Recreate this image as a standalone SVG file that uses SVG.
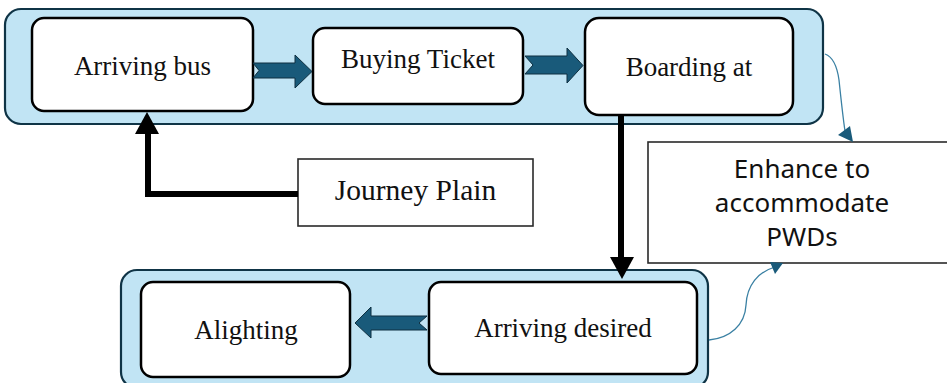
<svg xmlns="http://www.w3.org/2000/svg" width="947" height="383" viewBox="0 0 947 383">
  <style>
    .lane { fill: #c1e4f4; stroke: #0f3446; stroke-width: 2.2; }
    .step { fill: #ffffff; stroke: #000000; stroke-width: 2.5; }
    .plain { fill: #ffffff; stroke: #2a2a2a; stroke-width: 1.6; }
    .serif { font-family: "Liberation Serif", "Times New Roman", serif; font-size: 27px; fill: #111111; text-anchor: middle; }
    .sans { font-family: "Noto Sans", "Open Sans", sans-serif; font-size: 26px; fill: #111111; text-anchor: middle; }
    .chevron { fill: #195a7a; stroke: #0e2f40; stroke-width: 1; stroke-linejoin: miter; }
    .heavy { fill: none; stroke: #000000; stroke-width: 6; }
    .thin { fill: none; stroke: #3a80a3; stroke-width: 1.3; }
    .thinhead { fill: #195a7a; }
  </style>

  <!-- swimlane backgrounds -->
  <g id="lane-top">
    <rect class="lane" x="5" y="9" width="818" height="115" rx="16"/>
  </g>
  <g id="lane-bottom">
    <rect class="lane" x="121" y="270" width="587" height="118" rx="16"/>
  </g>

  <!-- steps -->
  <g id="arriving-bus">
    <rect class="step" x="32" y="18" width="221" height="93" rx="12"/>
    <text class="serif" x="142.5" y="75">Arriving bus</text>
  </g>
  <g id="buying-ticket">
    <rect class="step" x="313" y="28" width="210" height="76" rx="12"/>
    <text class="serif" x="418" y="68">Buying Ticket</text>
  </g>
  <g id="boarding-at">
    <rect class="step" x="585" y="18" width="208" height="97" rx="14"/>
    <text class="serif" x="689" y="76">Boarding at</text>
  </g>
  <g id="journey-plain">
    <rect class="plain" x="298" y="159" width="235" height="67"/>
    <text class="serif" x="415.5" y="200" style="font-size:29.5px">Journey Plain</text>
  </g>
  <g id="enhance">
    <rect class="plain" x="648" y="142" width="320" height="121"/>
    <text class="sans" x="802" y="178">Enhance to</text>
    <text class="sans" x="802" y="212">accommodate</text>
    <text class="sans" x="802" y="246">PWDs</text>
  </g>
  <g id="alighting">
    <rect class="step" x="141" y="282" width="209" height="95" rx="12"/>
    <text class="serif" x="246" y="339">Alighting</text>
  </g>
  <g id="arriving-desired">
    <rect class="step" x="429" y="282" width="268" height="92" rx="12"/>
    <text class="serif" x="563" y="337">Arriving desired</text>
  </g>

  <!-- connectors -->
  <g id="connectors">
    <polygon class="chevron" points="253,63 295,63 295,55 312,71.5 295,88 295,78 253,78 259,70.5"/>
    <polygon class="chevron" points="525,56 567,56 567,48 583,65.5 567,83 567,74 525,74 533,65"/>
    <polygon class="chevron" points="427,316 371,316 371,307 355,323 371,338 371,330 427,330 419,323"/>

    <path class="heavy" d="M 298 194 H 148 V 132"/>
    <polygon points="135,134 159,134 147,112" fill="#000000"/>

    <path class="heavy" d="M 621 114 V 259"/>
    <polygon points="610,257 634,257 622,279" fill="#000000"/>

    <path class="thin" d="M 825 54 Q 836 58 839 80 Q 843 118 845 131"/>
    <polygon class="thinhead" points="853,142 838,135 850,126"/>

    <path class="thin" d="M 709 340 C 730 338 745 325 746 305 C 747 285 758 272 775 267"/>
    <polygon class="thinhead" points="783,263 770,262 775,274"/>
  </g>
</svg>
